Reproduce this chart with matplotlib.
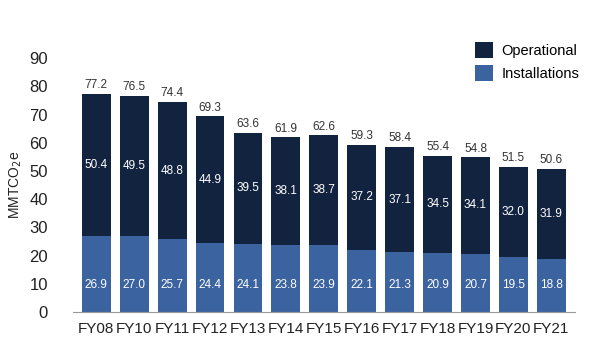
import matplotlib as mpl
mpl.use('Agg')
import matplotlib.pyplot as plt
import numpy as np

years = ['FY08', 'FY10', 'FY11', 'FY12', 'FY13', 'FY14', 'FY15',
         'FY16', 'FY17', 'FY18', 'FY19', 'FY20', 'FY21']
installations = [26.9, 27.0, 25.7, 24.4, 24.1, 23.8, 23.9, 22.1, 21.3, 20.9, 20.7, 19.5, 18.8]
operational = [50.4, 49.5, 48.8, 44.9, 39.5, 38.1, 38.7, 37.2, 37.1, 34.5, 34.1, 32.0, 31.9]
totals = [77.2, 76.5, 74.4, 69.3, 63.6, 61.9, 62.6, 59.3, 58.4, 55.4, 54.8, 51.5, 50.6]

c_oper = '#12233f'
c_inst = '#3b63a0'

plt.rcParams['font.family'] = ['Liberation Sans', 'DejaVu Sans']

fig = plt.figure(figsize=(5.92, 3.61), dpi=100)
ax = fig.add_axes([0.123, 0.136, 0.848, 0.703])

x = np.arange(len(years))
ax.bar(x, installations, width=0.76, color=c_inst, label='Installations')
ax.bar(x, operational, width=0.76, bottom=installations, color=c_oper, label='Operational')

for i in range(len(years)):
    ax.text(x[i], 9.5, f'{installations[i]:.1f}', ha='center', va='center',
            color='white', fontsize=8.5)
    ax.text(x[i], installations[i] + operational[i] / 2, f'{operational[i]:.1f}',
            ha='center', va='center', color='white', fontsize=8.5)
    ax.text(x[i], totals[i] + 1.0, f'{totals[i]:.1f}', ha='center', va='bottom',
            color='#333333', fontsize=8.5)

ax.set_ylim(0, 90)
ax.set_xlim(-0.62, len(years) - 0.38)
ax.set_yticks(range(0, 91, 10))
ax.set_xticks(x)
ax.set_xticklabels(years)
ax.tick_params(axis='both', length=0, labelsize=11, colors='#222222')
ax.tick_params(axis='y', labelsize=12, pad=18)
ax.tick_params(axis='x', pad=7)
for s in ['top', 'right', 'left']:
    ax.spines[s].set_visible(False)
ax.spines['bottom'].set_color('#999999')
ax.set_ylabel('MMTCO$_2$e', fontsize=10, color='#222222', labelpad=4)

h, l = ax.get_legend_handles_labels()
ax.legend(h[::-1], l[::-1], loc='upper left', bbox_to_anchor=(0.775, 1.115),
          frameon=False, fontsize=10.5, handlelength=1.2, handleheight=1.3,
          handletextpad=0.6, labelspacing=0.5)

fig.savefig('out.png', dpi=100)
